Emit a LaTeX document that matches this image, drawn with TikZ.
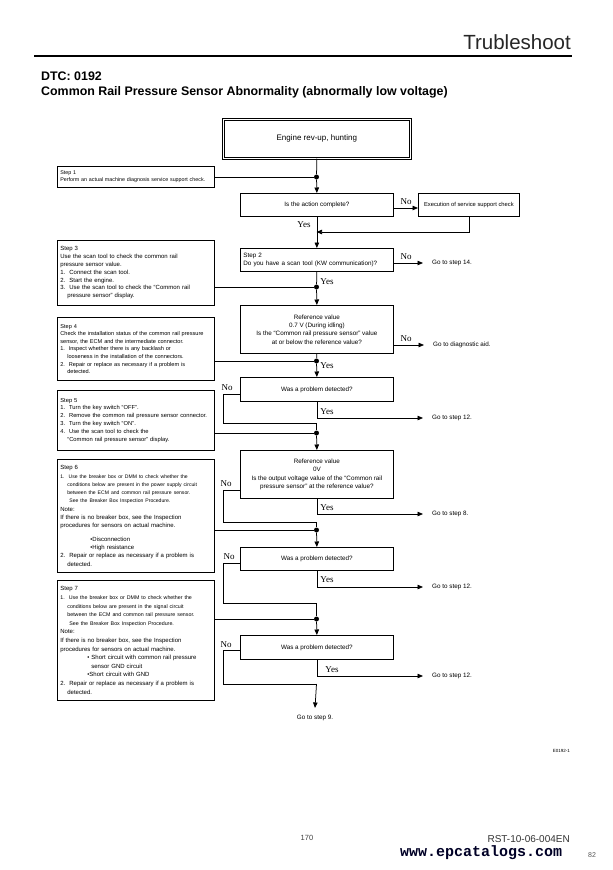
\documentclass[tikz,border=0pt]{standalone}
\usepackage{fontspec}
\setmainfont{Liberation Sans}
\newfontfamily\serifyn{Liberation Serif}
\newfontfamily\monoweb{Liberation Mono}
\usetikzlibrary{arrows.meta,calc}
\newcommand\ind{\hspace*{7pt}}
\newcommand\bind{\hspace*{30pt}}
\newcommand\cind{\hspace*{27pt}}
\begin{document}
\begin{tikzpicture}[x=1pt,y=-1pt,
  conn/.style={line width=0.75pt},
  arr/.style={conn,-{Triangle[length=5.5pt,width=4.5pt]}},
  fbox/.style={draw, line width=0.75pt, anchor=north west, inner sep=2pt, font=\fontsize{6.3}{8.3}\selectfont},
  dbox/.style={fbox, minimum width=153pt, minimum height=23pt, align=center},
  sbox/.style={draw, line width=0.75pt, anchor=north west, text width=151pt, align=left, inner xsep=3pt, inner ysep=1pt, font=\fontsize{6}{7.8}\selectfont},
  yn/.style={font=\serifyn\fontsize{9}{9}\selectfont, inner sep=0},
  goto/.style={anchor=west, inner sep=0, font=\fontsize{6.3}{8}\selectfont},
  jdot/.style={circle, fill, inner sep=0, minimum size=5pt},
]
\useasboundingbox[fill=white] (0,0) rectangle (613,870);

% header
\node[anchor=base east, inner sep=0, font=\fontsize{20.5}{22}\selectfont, text=black!85] (hdr) at (571,49) {Trubleshoot};
\draw[line width=1.1pt] (34,56) -- (572,56);
\node[anchor=base west, inner sep=0, font=\bfseries\fontsize{12.4}{13}\selectfont] (dtc) at (41,80) {DTC: 0192};
\node[anchor=base west, inner sep=0, font=\bfseries\fontsize{12.4}{13}\selectfont] (ttl) at (41,95) {Common Rail Pressure Sensor Abnormality (abnormally low voltage)};

% start box
\node[draw, line width=0.7pt, double, double distance=1.6pt, anchor=north west, minimum width=187pt, minimum height=39pt, font=\fontsize{8}{9}\selectfont] (eng) at (223,119) {Engine rev-up, hunting};

% junction dots and coordinates
\node[jdot] (p1) at (316.5,177) {};
\node[jdot] (p3) at (316.5,287) {};
\node[jdot] (p4) at (316.5,361) {};
\node[jdot] (p5) at (316.5,433) {};
\node[jdot] (p6) at (316.5,530) {};
\node[jdot] (p7) at (316.5,619) {};
\coordinate (r1) at (316.5,232);
\coordinate (c1) at (223,423); \coordinate (j1) at (316.5,423);
\coordinate (c2) at (223,522); \coordinate (j2) at (316.5,522);
\coordinate (c3) at (223,603); \coordinate (j3) at (316.5,603);
\coordinate (c4) at (223,684); \coordinate (j4) at (316.5,684);

% left step boxes
\node[sbox, minimum height=21pt, font=\fontsize{5.35}{7}\selectfont] (s1) at (57,166) {Step 1\\Perform an actual machine diagnosis service support check.};
\node[sbox, minimum height=65pt] (s3) at (57,240) {Step 3\\Use the scan tool to check the common rail\\pressure sensor value.\\1.\ \ Connect the scan tool.\\2.\ \ Start the engine.\\3.\ \ Use the scan tool to check the ``Common rail\\\ind pressure sensor'' display.};
\node[sbox, minimum height=63pt, font=\fontsize{5.6}{7.6}\selectfont] (s4) at (57,317) {Step 4\\Check the installation status of the common rail pressure\\sensor, the ECM and the intermediate connector.\\1.\ \ Inspect whether there is any backlash or\\\ind looseness in the installation of the connectors.\\2.\ \ Repair or replace as necessary if a problem is\\\ind detected.};
\node[sbox, minimum height=60pt, font=\fontsize{5.8}{7.9}\selectfont] (s5) at (57,390) {Step 5\\1.\ \ Turn the key switch ``OFF''.\\2.\ \ Remove the common rail pressure sensor connector.\\3.\ \ Turn the key switch ``ON''.\\4.\ \ Use the scan tool to check the\\\ind ``Common rail pressure sensor'' display.};
\node[sbox, minimum height=113pt, font=\fontsize{6}{8.3}\selectfont] (s6) at (57,459) {Step 6\\{\fontsize{5.1}{8.3}\selectfont 1.\ \ Use the breaker box or DMM to check whether the\\\ind conditions below are present in the power supply circuit\\\ind between the ECM and common rail pressure sensor.\\\ind\ See the Breaker Box Inspection Procedure.}\\Note:\\If there is no breaker box, see the Inspection\\procedures for sensors on actual machine.\\[5pt]\bind\textbullet Disconnection\\\bind\textbullet High resistance\\2.\ \ Repair or replace as necessary if a problem is\\\ind detected.};
\node[sbox, minimum height=120pt, font=\fontsize{6}{8.6}\selectfont] (s7) at (57,580) {Step 7\\{\fontsize{5.3}{8.6}\selectfont 1.\ \ Use the breaker box or DMM to check whether the\\\ind conditions below are present in the signal circuit\\\ind between the ECM and common rail pressure sensor.\\\ind\ See the Breaker Box Inspection Procedure.}\\Note:\\If there is no breaker box, see the Inspection\\procedures for sensors on actual machine.\\\cind\textbullet\ Short circuit with common rail pressure\\\cind\ \ sensor GND circuit\\\cind\textbullet Short circuit with GND\\2.\ \ Repair or replace as necessary if a problem is\\\ind detected.};

% main column boxes
\node[dbox] (d1) at (240,193) {Is the action complete?};
\node[fbox, minimum width=101pt, minimum height=23pt, font=\fontsize{5.8}{7}\selectfont] (x1) at (418,193) {Execution of service support check};
\node[fbox, minimum width=153pt, minimum height=23pt, text width=147pt, align=left, font=\fontsize{6.3}{8.5}\selectfont] (s2) at (240,248) {Step 2\\Do you have a scan tool (KW communication)?};
\node[dbox, minimum height=48pt] (r7) at (240,305) {Reference value\\0.7 V (During idling)\\Is the ``Common rail pressure sensor'' value\\at or below the reference value?};
\node[dbox, minimum height=24pt] (w1) at (240,377) {Was a problem detected?};
\node[dbox, minimum height=48pt] (r0) at (240,450) {Reference value\\0V\\Is the output voltage value of the ``Common rail\\pressure sensor'' at the reference value?};
\node[dbox] (w2) at (240,547) {Was a problem detected?};
\node[dbox, minimum height=24pt] (w3) at (240,635) {Was a problem detected?};

% go-to targets
\node[goto] (g1) at (432,263) {Go to step 14.};
\node[goto] (g2) at (433,345) {Go to diagnostic aid.};
\node[goto] (g3) at (432,418) {Go to step 12.};
\node[goto] (g4) at (432,514) {Go to step 8.};
\node[goto] (g5) at (432,587) {Go to step 12.};
\node[goto] (g6) at (432,676) {Go to step 12.};
\node[inner sep=0, font=\fontsize{6.3}{8}\selectfont] (g7) at (315,718) {Go to step 9.};

% connectors
\draw[conn] (eng.south) -- (p1);
\draw[conn] (s1.east |- p1) -- (p1);
\draw[arr] (p1) -- (d1.north);
\draw[arr] (d1.east |- 0,208) -- (x1.west |- 0,208);
\draw[arr] (x1.south) |- (r1);
\draw[arr] (d1.south) -- (s2.north);
\draw[arr] (s2.east |- g1) -- ([xshift=-9pt]g1.west);
\draw[conn] (s2.south) -- (p3);
\draw[conn] (s3.east |- p3) -- (p3);
\draw[arr] (p3) -- (r7.north);
\draw[arr] (r7.east |- g2) -- ([xshift=-9pt]g2.west);
\draw[conn] (r7.south) -- (p4);
\draw[conn] (s4.east |- p4) -- (p4);
\draw[arr] (p4) -- (w1.north);
\draw[conn] (w1.west |- 0,394) -| (c1) -- (j1);
\draw[arr] (w1.south) |- ([xshift=-9pt]g3.west);
\draw[conn] (j1) -- (p5);
\draw[conn] (s5.east |- p5) -- (p5);
\draw[arr] (p5) -- (r0.north);
\draw[conn] (r0.west |- 0,490) -| (c2) -- (j2);
\draw[arr] (r0.south) |- ([xshift=-9pt]g4.west);
\draw[conn] (j2) -- (p6);
\draw[conn] (s6.east |- p6) -- (p6);
\draw[arr] (p6) -- (w2.north);
\draw[conn] (w2.west |- 0,563) -| (c3) -- (j3);
\draw[arr] (w2.south) |- ([xshift=-9pt]g5.west);
\draw[conn] (j3) -- (p7);
\draw[conn] (s7.east |- p7) -- (p7);
\draw[arr] (p7) -- (w3.north);
\draw[conn] (w3.west |- 0,650) -| (c4) -- (j4);
\draw[arr] (j4) -- ([yshift=7pt]g7.north);
\draw[arr] (w3.south) |- ([xshift=-9pt]g6.west);

% yes / no labels
\node[yn] (yes1) at (304,225) {Yes};
\node[yn] (no1) at (406,202) {No};
\node[yn] (no2) at (406,257) {No};
\node[yn] (yes2) at (327,282) {Yes};
\node[yn] (no3) at (406,339) {No};
\node[yn] (yes3) at (327,366) {Yes};
\node[yn] (no4) at (227,388) {No};
\node[yn] (yes4) at (327,412) {Yes};
\node[yn] (no5) at (226,484) {No};
\node[yn] (yes5) at (327,508) {Yes};
\node[yn] (no6) at (229,557) {No};
\node[yn] (yes6) at (327,580) {Yes};
\node[yn] (no7) at (226,645) {No};
\node[yn] (yes7) at (332,670) {Yes};

% footer
\node[anchor=base east, inner sep=0, font=\fontsize{4.5}{5}\selectfont] (fig) at (570,752) {E0192-1};
\node[anchor=base, inner sep=0, font=\fontsize{7.5}{8}\selectfont, text=black!75] (pg) at (307,840) {170};
\node[anchor=base east, inner sep=0, font=\fontsize{10}{11}\selectfont, text=black!80] (doc) at (570,842) {RST-10-06-004EN};
\node[anchor=base west, inner sep=0, font=\monoweb\bfseries\fontsize{15}{16}\selectfont, text=black!85!blue] (web) at (400,856) {www.epcatalogs.com};
\node[anchor=base west, inner sep=0, font=\fontsize{7}{8}\selectfont, text=black!65] (pn) at (588,857) {82};
\end{tikzpicture}
\end{document}
